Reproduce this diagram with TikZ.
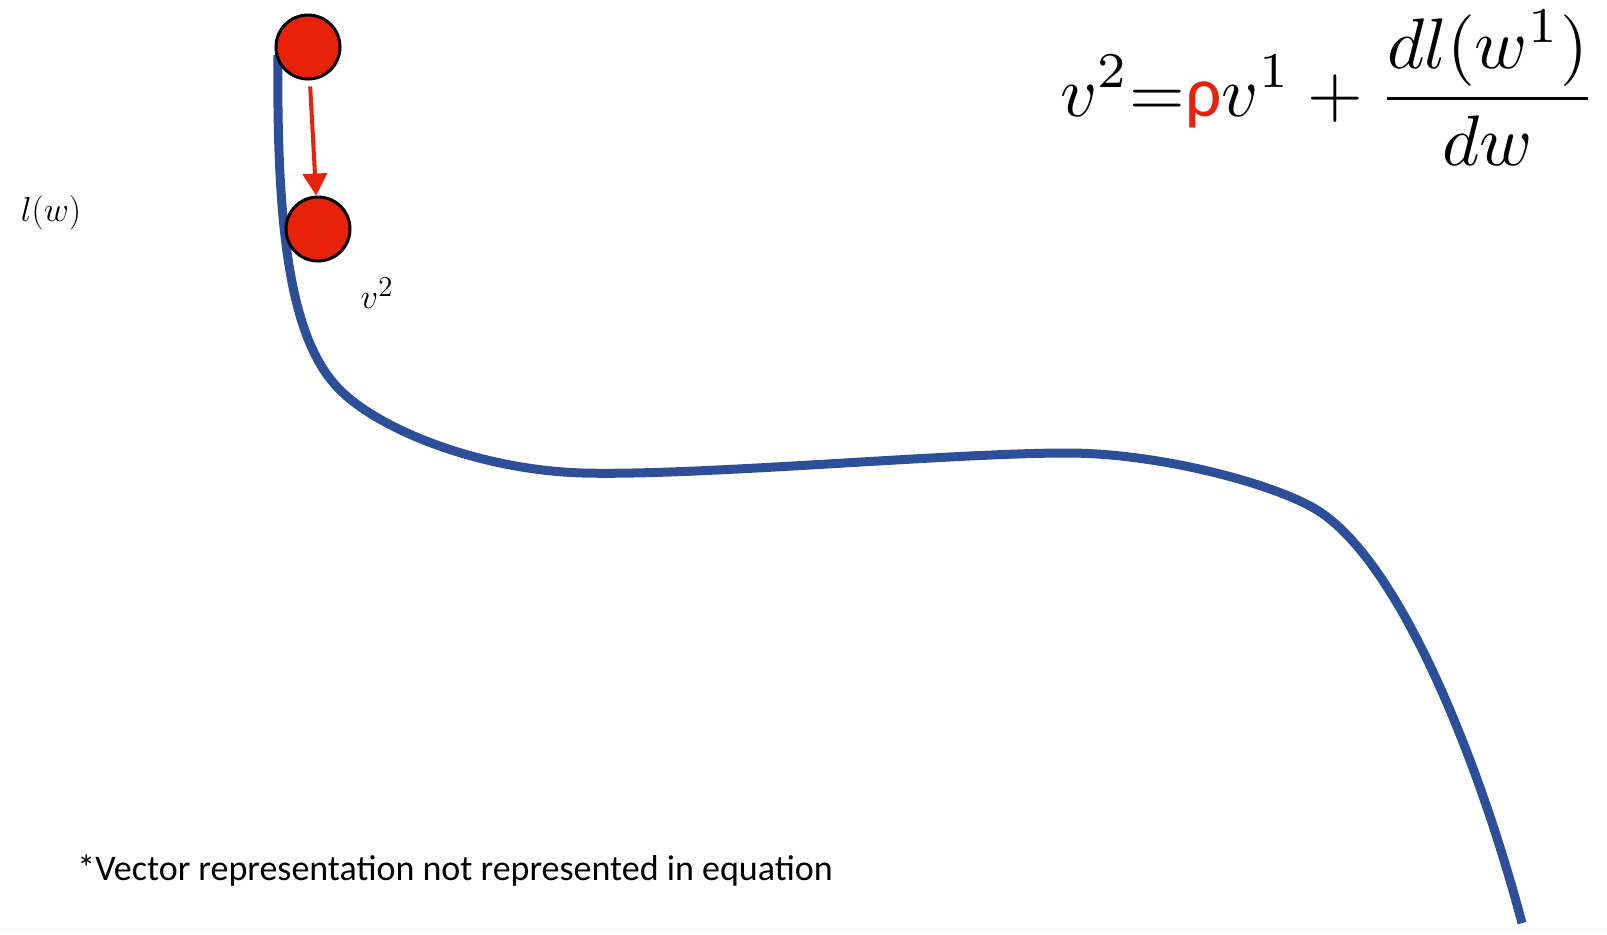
\documentclass[tikz,border=0pt]{standalone}
\usepackage{fontspec}
\newfontfamily\calfont{Carlito}
\usetikzlibrary{arrows.meta}
\definecolor{curveblue}{RGB}{45,78,152}
\definecolor{ballred}{RGB}{232,33,10}
\tikzset{
  ball/.style={circle, minimum size=32pt, inner sep=0pt, fill=ballred, draw=black, line width=1.5pt},
  movearrow/.style={draw=ballred, line width=2pt, -{Triangle[length=11pt,width=12pt]}, shorten <=3pt},
  lossline/.style={draw=curveblue, line width=4.5pt},
  mathlabel/.style={font=\fontsize{19}{22}\selectfont, inner sep=0pt}
}
\begin{document}
\begin{tikzpicture}[x=0.5pt,y=-0.5pt]
\useasboundingbox (0,0) rectangle (1607,934);
\fill[gray!5] (0,928) rectangle (1607,934);
\draw[lossline] (278,55) .. controls (276,250) and (295,345) .. (340,390)
  .. controls (380,430) and (480,470) .. (583,473)
  .. controls (700,476) and (950,453) .. (1067,453)
  .. controls (1160,453) and (1275,484) .. (1317,510)
  .. controls (1401,562) and (1480,765) .. (1522,923);
\node[ball] (b1) at (308,47) {};
\node[ball] (b2) at (318,229) {};
\draw[movearrow] (b1) -- (b2);
\node[mathlabel] (lw) at (51,213) {$l(w)$};
\node[mathlabel] (v2) at (377,293) {$v^2$};
\node[anchor=east, inner sep=0pt] (eq) at (1597,88) {\resizebox{268pt}{!}{$\displaystyle v^2{=}\mbox{\calfont\color{ballred}ρ}v^1+\frac{dl(w^1)}{dw}$}};
\node[anchor=base west, inner sep=0pt, font=\calfont\fontsize{18}{21}\selectfont] (note) at (77,880) {*Vector representation not represented in equation};
\end{tikzpicture}
\end{document}
